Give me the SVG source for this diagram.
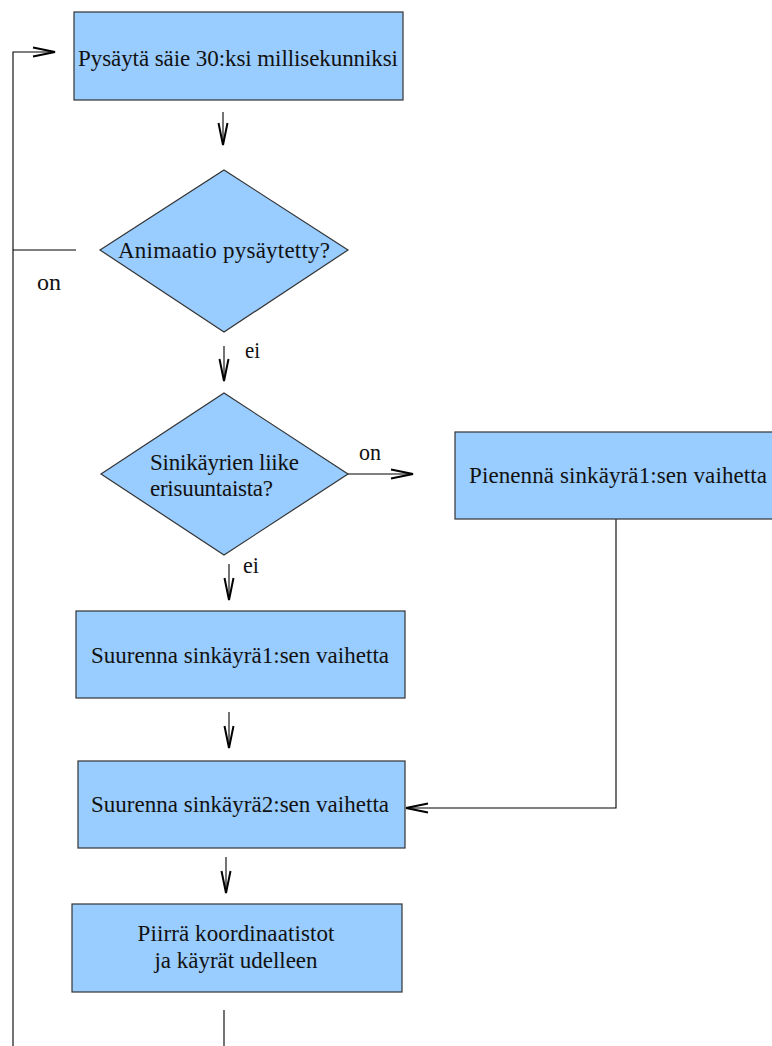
<svg xmlns="http://www.w3.org/2000/svg" width="772" height="1046" viewBox="0 0 772 1046">
<style>
.box{fill:#99ccff;stroke:#333;stroke-width:1.2}
.t{font-family:"Liberation Serif","Times New Roman",serif;font-size:23px;fill:#111}
.c{text-anchor:middle}
.ln{fill:none;stroke:#000;stroke-width:1.1}
</style>
<defs>
<marker id="ah" markerUnits="userSpaceOnUse" markerWidth="26" markerHeight="14" refX="22" refY="5" orient="auto" overflow="visible">
<path d="M0,0.5 L22,5 L0,9.5" fill="none" stroke="#000" stroke-width="2"/>
</marker>
</defs>
<rect width="772" height="1046" fill="#fff"/>
<g id="connectors">
<path class="ln" d="M13,1046 L13,52 L55,52" marker-end="url(#ah)"/>
<path class="ln" d="M13,250 L76,250"/>
<path class="ln" d="M223,112 L223,145" marker-end="url(#ah)"/>
<path class="ln" d="M224,346 L224,381" marker-end="url(#ah)"/>
<path class="ln" d="M348,474 L413,474" marker-end="url(#ah)"/>
<path class="ln" d="M229,564 L229,600" marker-end="url(#ah)"/>
<path class="ln" d="M616,519 L616,808 L406,808" marker-end="url(#ah)"/>
<path class="ln" d="M229,712 L229,748" marker-end="url(#ah)"/>
<path class="ln" d="M226,857 L226,893" marker-end="url(#ah)"/>
<path class="ln" d="M224,1010 L224,1046"/>
<text class="t" x="37" y="290" textLength="24" lengthAdjust="spacingAndGlyphs">on</text>
<text class="t" x="245" y="358" textLength="15" lengthAdjust="spacingAndGlyphs">ei</text>
<text class="t" x="359" y="460" textLength="22" lengthAdjust="spacingAndGlyphs">on</text>
<text class="t" x="243" y="573" textLength="16" lengthAdjust="spacingAndGlyphs">ei</text>
</g>
<g id="n1">
<rect class="box" x="74" y="12" width="329" height="88"/>
<text class="t c" x="238" y="66" textLength="320">Pysäytä säie 30:ksi millisekunniksi</text>
</g>
<g id="n2">
<polygon class="box" points="100,250 224,170 348,250 224,332"/>
<text class="t c" x="224" y="258" textLength="212">Animaatio pysäytetty?</text>
</g>
<g id="n3">
<polygon class="box" points="101,474 224,393 348,474 224,555"/>
<text class="t" x="150" y="470" textLength="149">Sinikäyrien liike</text>
<text class="t" x="150" y="496" textLength="123">erisuuntaista?</text>
</g>
<g id="n4">
<rect class="box" x="455" y="432" width="330" height="87"/>
<text class="t" x="469" y="483" textLength="298">Pienennä sinkäyrä1:sen vaihetta</text>
</g>
<g id="n5">
<rect class="box" x="76" y="611" width="329" height="87"/>
<text class="t c" x="240" y="663" textLength="298">Suurenna sinkäyrä1:sen vaihetta</text>
</g>
<g id="n6">
<rect class="box" x="78" y="761" width="327" height="87"/>
<text class="t c" x="240" y="812" textLength="298">Suurenna sinkäyrä2:sen vaihetta</text>
</g>
<g id="n7">
<rect class="box" x="72" y="904" width="330" height="88"/>
<text class="t c" x="236" y="941" textLength="197">Piirrä koordinaatistot</text>
<text class="t c" x="236" y="968" textLength="163">ja käyrät udelleen</text>
</g>
</svg>
